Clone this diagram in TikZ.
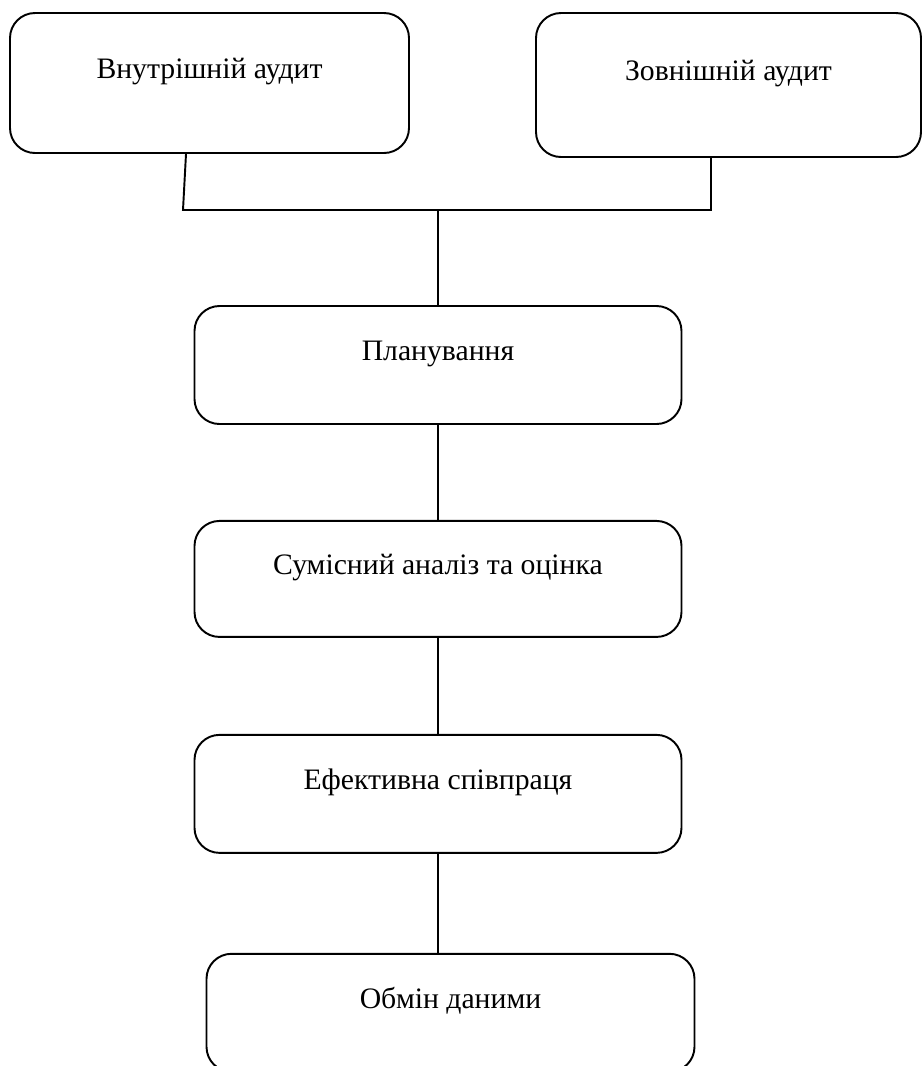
\documentclass[tikz,border=0pt]{standalone}
\usepackage{fontspec}
\setmainfont{Liberation Serif}
\usepackage{tikz}
\usetikzlibrary{positioning}

\begin{document}
\begin{tikzpicture}[
      node distance = 1.92cm,
      stagebox/.style = {
        rectangle, rounded corners=0.5cm,
        draw=black, line width=1.1pt, fill=white,
        minimum width=9.74cm, minimum height=2.36cm,
        font=\fontsize{16.9}{20}\selectfont, align=center, text=black,
        text height=0.3cm, text depth=0.48cm
      },
      link/.style = {line width=1.1pt, color=black}
    ]

      \useasboundingbox (0,0) rectangle (18.44,-21.32);

      % ===================== Top row =====================
      \node[stagebox, minimum width=7.98cm, minimum height=2.8cm] (inner) at (4.19,-1.66) {Внутрішній аудит};
      \node[stagebox, minimum width=7.7cm, minimum height=2.88cm] (outer) at (14.57,-1.7) {Зовнішній аудит};

      % ===================== Main column =====================
      \node[stagebox] (plan) at (8.76,-7.3) {Планування};
      \node[stagebox, minimum height=2.32cm, below=1.9cm of plan] (joint) {Сумісний аналіз та оцінка};
      \node[stagebox, below=1.92cm of joint] (coop) {Ефективна співпраця};
      \node[stagebox, minimum width=9.76cm, below=1.98cm of coop, xshift=0.25cm] (data) {Обмін даними};

      % ===================== Junction =====================
      \coordinate (jl) at (3.66,-4.2);
      \coordinate (jr) at (14.22,-4.2);
      \coordinate (jc) at (8.76,-4.2);

      \draw[link] ([xshift=-0.47cm]inner.south) -- (jl) -- (jr) -- (jr |- outer.south);
      \draw[link] (jc) -- (jc |- plan.north);

      % ===================== Chain =====================
      \draw[link] (plan.south) -- (joint.north);
      \draw[link] (joint.south) -- (coop.north);
      \draw[link] (coop.south) -- (coop.south |- data.north);

    \end{tikzpicture}
\end{document}
